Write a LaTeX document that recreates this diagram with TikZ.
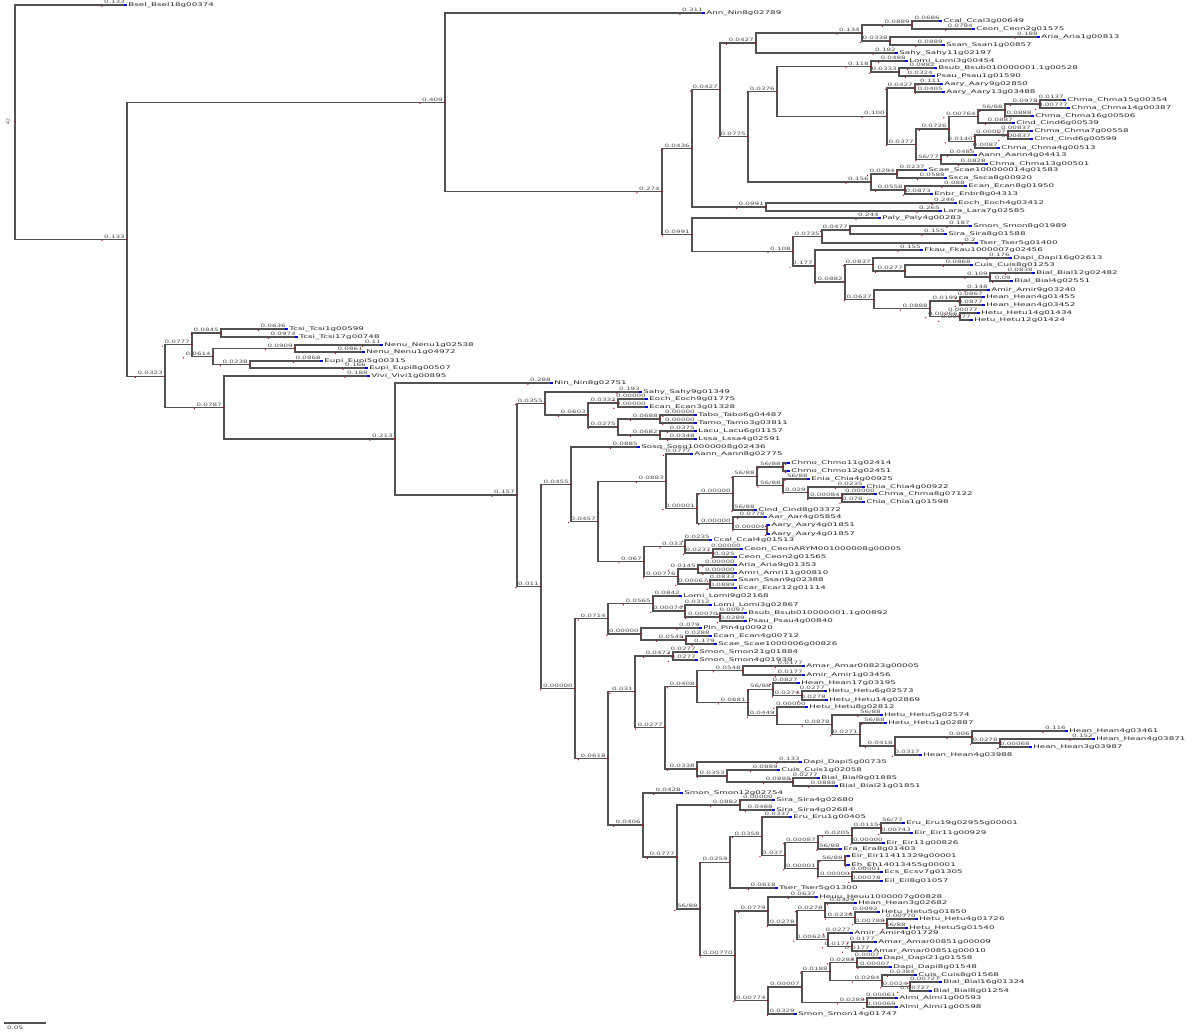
\documentclass[tikz,border=0pt]{standalone}
\usepackage{fontspec}
\newfontfamily\tf{DejaVu Sans}
\usetikzlibrary{calc}
\newcommand\setbl[2]{\expandafter\gdef\csname brl#1\endcsname{#2}}
\newcommand\getbl[1]{\csname brl#1\endcsname}
\newcommand\leaflist{}
\newcommand\dotlist{}
\newcommand\drawleaf[2]{%
  \draw[tipc] ([xshift=-3pt]#1) -- (#1);
  \node[lname] (#1t) at (#1) {#2};}
\newcommand\drawdot[3]{\fill[rdot] (#1) circle (0.8pt);
  \fill[rdot] ([yshift=-1.3pt]#2lab.south west) circle (0.7pt);
  \fill[rdot] ([yshift=-1.3pt]#3lab.south west) circle (0.7pt);}
\newcommand\lf[5]{%
  \coordinate (#1) at (#2,#3);
  \setbl{#1}{#4}%
  \expandafter\gdef\expandafter\leaflist\expandafter{\leaflist\drawleaf{#1}{#5}}%
}
\newcommand\nd[5]{%
  \coordinate (#1m) at ($(#3)!0.5!(#4)$);
  \coordinate (#1) at (#1m -| #2,0);
  \setbl{#1}{#5}%
  \draw[br] (#1) |- node[blab,pos=1] (#3lab) {\getbl{#3}} (#3);
  \draw[br] (#1) |- node[blab,pos=1] (#4lab) {\getbl{#4}} (#4);
  \expandafter\gdef\expandafter\dotlist\expandafter{\dotlist\drawdot{#1}{#3}{#4}}%
}
\begin{document}
\begin{tikzpicture}[x=1pt,y=-1pt,
  br/.style={draw=black!68,line width=1.15pt},
  tipc/.style={draw=blue!85!black,line width=1.1pt},
  lname/.style={anchor=west,inner sep=0.6pt,font=\tf\fontsize{5}{5}\selectfont,xscale=1.75,text=black!85},
  blab/.style={anchor=south east,inner xsep=0.8pt,inner ysep=0.5pt,font=\tf\fontsize{4.5}{4.5}\selectfont,xscale=1.6,text=black!70},
  rdot/.style={fill=red!75!black}]
\fill[white] (0,0) rectangle (1200,1032);
\useasboundingbox (0,0) rectangle (1200,1032);
% ---------- leaves, upper clade
\lf{bsel}{127}{5}{0.133}{Bsel\_Bsel18g00374}
\lf{ann}{705}{13}{0.311}{Ann\_Nin8g02789}
\lf{ccal}{942}{21}{0.0686}{Ccal\_Ccal3g00649}
\lf{ceon}{975}{29}{0.0784}{Ceon\_Ceon2g01575}
\lf{aria}{1040}{37}{0.188}{Aria\_Aria1g00813}
\lf{ssan}{945}{45}{0.0889}{Ssan\_Ssan1g00857}
\lf{sahy}{898}{53}{0.182}{Sahy\_Sahy11g02197}
\lf{lomi}{908}{61}{0.0488}{Lomi\_Lomi3g00454}
\lf{bsub}{937}{68}{0.0882}{Bsub\_Bsub010000001.1g00528}
\lf{psau}{935}{76}{0.0324}{Psau\_Psau1g01590}
\lf{aaryA}{943}{84}{0.111}{Aary\_Aary9g02850}
\lf{aaryB}{945}{92}{0.0405}{Aary\_Aary13g03488}
\lf{chmaA}{1066}{100}{0.0137}{Chma\_Chma15g00354}
\lf{chmaB}{1070}{108}{0.00777}{Chma\_Chma14g00387}
\lf{chmaC}{1034}{116}{0.0888}{Chma\_Chma16g00506}
\lf{cindA}{1015}{123}{0.0887}{Cind\_Cind6g00539}
\lf{chmaD}{1033}{131}{0.00837}{Chma\_Chma7g00558}
\lf{cindB}{1033}{139}{0.00837}{Cind\_Cind6g00599}
\lf{chmaE}{1000}{148}{0.0087}{Chma\_Chma4g00513}
\lf{aannA}{977}{155}{0.0485}{Aann\_Aann4g04413}
\lf{chmaF}{988}{164}{0.0828}{Chma\_Chma13g00501}
\lf{scaeA}{927}{170}{0.0237}{Scae\_Scae100000014g01583}
\lf{sscaA}{947}{178}{0.0588}{Ssca\_Ssca8g00920}
\lf{ecanA}{967}{186}{0.088}{Ecan\_Ecan8g01950}
\lf{enbrA}{933}{194}{0.0873}{Enbr\_Enbr8g04313}
\lf{eochA}{957}{203}{0.246}{Eoch\_Eoch4g03412}
\lf{laraA}{942}{211}{0.265}{Lara\_Lara7g02585}
\lf{palyA}{881}{218}{0.244}{Paly\_Paly4g00283}
\lf{smonA}{972}{226}{0.187}{Smon\_Smon8g01989}
\lf{siraA}{947}{234}{0.155}{Sira\_Sira8g01588}
\lf{tserA}{978}{243}{0.2}{Tser\_Tser5g01400}
\lf{fkauA}{923}{250}{0.155}{Fkau\_Fkau1000007g02456}
\lf{dapiA}{1012}{258}{0.176}{Dapi\_Dapi16g02613}
\lf{cuisA}{973}{265}{0.0868}{Cuis\_Cuis8g01253}
\lf{bialA}{1035}{273}{0.0838}{Bial\_Bial12g02482}
\lf{bialB}{1013}{281}{0.09}{Bial\_Bial4g02551}
\lf{amirA}{990}{290}{0.148}{Amir\_Amir9g03240}
\lf{heanA}{985}{297}{0.0867}{Hean\_Hean4g01455}
\lf{heanB}{985}{305}{0.0877}{Hean\_Hean4g03452}
\lf{hetuA}{980}{313}{0.00077}{Hetu\_Hetu14g01434}
\lf{hetuB}{973}{320}{0.00077}{Hetu\_Hetu12g01424}
% ---------- internal, upper clade
\nd{Ca}{912}{ccal}{ceon}{0.0889}
\nd{Cb}{890}{aria}{ssan}{0.0338}
\nd{C1}{862}{Ca}{Cb}{0.134}
\nd{C}{756}{C1}{sahy}{0.0427}
\nd{H}{899}{bsub}{psau}{0.0333}
\nd{G}{871}{lomi}{H}{0.118}
\nd{J}{915}{aaryA}{aaryB}{0.0427}
\nd{O}{1040}{chmaA}{chmaB}{0.0978}
\nd{N}{1005}{O}{chmaC}{56/88}
\nd{M}{978}{N}{cindA}{0.00764}
\nd{L3}{1008}{chmaD}{cindB}{0.00007}
\nd{L2}{975}{L3}{chmaE}{0.0140}
\nd{L}{949}{M}{L2}{0.0726}
\nd{K2}{941}{aannA}{chmaF}{56/77}
\nd{K}{916}{L}{K2}{0.0377}
\nd{I}{887}{J}{K}{0.100}
\nd{E}{777}{G}{I}{0.0376}
\nd{F1}{897}{scaeA}{sscaA}{0.0294}
\nd{F2}{905}{ecanA}{enbrA}{0.0558}
\nd{F}{871}{F1}{F2}{0.156}
\nd{D}{748}{E}{F}{0.0775}
\nd{B}{720}{C}{D}{0.0427}
\nd{EL}{766}{eochA}{laraA}{0.0991}
\nd{A}{692}{B}{EL}{0.0436}
\nd{T}{850}{smonA}{siraA}{0.0477}
\nd{S}{822}{T}{tserA}{0.0735}
\nd{Y}{990}{bialA}{bialB}{0.109}
\nd{X}{905}{cuisA}{Y}{0.0277}
\nd{W}{873}{dapiA}{X}{0.0837}
\nd{AB}{960}{heanA}{heanB}{0.0199}
\nd{AC}{960}{hetuA}{hetuB}{0.00066}
\nd{AA}{930}{AB}{AC}{0.0888}
\nd{Z}{874}{amirA}{AA}{0.0627}
\nd{V}{845}{W}{Z}{0.0882}
\nd{U}{815}{fkauA}{V}{0.177}
\nd{R}{793}{S}{U}{0.108}
\nd{P}{692}{palyA}{R}{0.0991}
\nd{Q}{662}{A}{P}{0.274}
\nd{TT}{445}{ann}{Q}{0.409}
% ---------- leaves, lower clade
\lf{tcsiA}{288}{329}{0.0636}{Tcsi\_Tcsi1g00599}
\lf{tcsiB}{298}{337}{0.0974}{Tcsi\_Tcsi17g00748}
\lf{nenuA}{383}{345}{0.11}{Nenu\_Nenu1g02538}
\lf{nenuB}{365}{352}{0.0861}{Nenu\_Nenu1g04972}
\lf{eupiA}{323}{361}{0.0868}{Eupi\_Eupi5g00315}
\lf{eupiB}{368}{368}{0.166}{Eupi\_Eupi8g00507}
\lf{vivi}{370}{376}{0.188}{Vivi\_Vivi1g00895}
\lf{nin}{553}{383}{0.288}{Nin\_Nin8g02751}
\lf{sahyB}{642}{392}{0.193}{Sahy\_Sahy9g01349}
\lf{eochB}{648}{399}{0.00000}{Eoch\_Eoch9g01775}
\lf{ecanB}{648}{407}{0.00000}{Ecan\_Ecan3g01328}
\lf{tabo}{697}{415}{0.00000}{Tabo\_Tabo6g04487}
\lf{tamo}{697}{423}{0.00000}{Tamo\_Tamo3g03811}
\lf{lacu}{697}{431}{0.0375}{Lacu\_Lacu6g01157}
\lf{lssa}{697}{439}{0.0348}{Lssa\_Lssa4g02591}
\lf{sosq}{640}{447}{0.0885}{Sosq\_Sosq10000008g02436}
\lf{aannB}{693}{454}{0.0777}{Aann\_Aann8g02775}
\lf{chmoA}{790}{463}{}{Chmo\_Chmo11g02414}
\lf{chmoB}{790}{471}{}{Chmo\_Chmo12g02451}
\lf{enia}{810}{479}{56/88}{Enia\_Chia4g00925}
\lf{chiaA}{865}{487}{0.0235}{Chia\_Chia4g00922}
\lf{chmaG}{877}{494}{0.00000}{Chma\_Chma8g07122}
\lf{chiaB}{865}{502}{0.078}{Chia\_Chia1g01598}
\lf{cindC}{757}{510}{56/88}{Cind\_Cind8g03372}
\lf{aar}{767}{517}{0.0778}{Aar\_Aar4g05854}
\lf{aaryC}{770}{525}{}{Aary\_Aary4g01851}
\lf{aaryD}{770}{534}{}{Aary\_Aary4g01857}
\lf{ccalB}{712}{540}{0.0235}{Ccal\_Ccal4g01513}
\lf{ceonB}{743}{549}{0.00000}{Ceon\_CeonARYM001000008g00005}
\lf{ceonC}{737}{557}{0.025}{Ceon\_Ceon2g01565}
\lf{ariaB}{737}{565}{0.00000}{Aria\_Aria9g01353}
\lf{amri}{737}{573}{0.00000}{Amri\_Amri11g00810}
\lf{ssanB}{737}{580}{0.0833}{Ssan\_Ssan9g02388}
\lf{ecar}{737}{588}{0.0889}{Ecar\_Ecar12g01114}
\lf{lomiB}{682}{596}{0.0842}{Lomi\_Lomi9g02168}
\lf{lomiC}{712}{605}{0.0312}{Lomi\_Lomi3g02867}
\lf{bsubB}{747}{613}{0.0097}{Bsub\_Bsub010000001.1g00892}
\lf{psauB}{747}{621}{0.0289}{Psau\_Psau4g00840}
\lf{pin}{702}{628}{0.079}{Pin\_Pin4g00920}
\lf{ecanC}{712}{636}{0.0288}{Ecan\_Ecan4g00712}
\lf{scaeB}{717}{644}{0.179}{Scae\_Scae1000006g00826}
\lf{smonB}{698}{652}{0.0277}{Smon\_Smon21g01884}
\lf{smonC}{698}{660}{0.0277}{Smon\_Smon4g01939}
\lf{amar}{805}{666}{0.0177}{Amar\_Amar00823g00005}
\lf{amirB}{805}{675}{0.0177}{Amir\_Amir1g03456}
\lf{heanC}{800}{683}{0.0827}{Hean\_Hean17g03195}
\lf{hetuC}{827}{691}{0.0277}{Hetu\_Hetu6g02573}
\lf{hetuD}{828}{700}{0.0278}{Hetu\_Hetu14g02869}
\lf{hetuE}{808}{707}{0.00000}{Hetu\_Hetu8g02812}
\lf{hetuF}{883}{715}{56/88}{Hetu\_Hetu5g02574}
\lf{hetuG}{887}{723}{56/88}{Hetu\_Hetu1g02887}
\lf{heanD}{1068}{731}{0.116}{Hean\_Hean4g03461}
\lf{heanE}{1095}{739}{0.152}{Hean\_Hean4g03871}
\lf{heanF}{1032}{747}{0.00068}{Hean\_Hean3g03987}
\lf{heanG}{922}{755}{0.0317}{Hean\_Hean4g03988}
\lf{dapiB}{802}{762}{0.133}{Dapi\_Dapi5g00735}
\lf{cuisB}{780}{770}{0.0889}{Cuis\_Cuis1g02058}
\lf{bialC}{820}{778}{0.0277}{Bial\_Bial9g01885}
\lf{bialD}{838}{786}{0.0888}{Bial\_Bial21g01851}
\lf{smonD}{683}{793}{0.0428}{Smon\_Smon12g02754}
\lf{siraB}{775}{800}{0.00000}{Sira\_Sira4g02680}
\lf{siraC}{775}{810}{0.0488}{Sira\_Sira4g02684}
\lf{eruA}{792}{817}{0.0337}{Eru\_Eru1g00405}
\lf{eruB}{905}{823}{56/77}{Eru\_Eru19g02955g00001}
\lf{eirA}{913}{833}{0.00743}{Eir\_Eir11g00929}
\lf{eirB}{885}{843}{0.00000}{Eir\_Eir11g00826}
\lf{era}{842}{849}{56/88}{Era\_Era8g01403}
\lf{eirC}{850}{856}{}{Eir\_Eir11411329g00001}
\lf{eh}{850}{865}{}{Eh\_Eh14013455g00001}
\lf{ecs}{883}{872}{0.00001}{Ecs\_Ecsv7g01305}
\lf{eil}{883}{881}{0.00078}{Eil\_Eil8g01057}
\lf{tserB}{778}{888}{0.0618}{Tser\_Tser5g01300}
\lf{heuu}{818}{897}{0.0637}{Heuu\_Heuu1000007g00828}
\lf{heanH}{857}{903}{0.0329}{Hean\_Hean3g02682}
\lf{hetuH}{880}{912}{0.0092}{Hetu\_Hetu5g01850}
\lf{hetuI}{918}{919}{0.00770}{Hetu\_Hetu4g01726}
\lf{hetuJ}{908}{928}{56/88}{Hetu\_Hetu5g01540}
\lf{amirC}{853}{933}{0.0277}{Amir\_Amir4g01729}
\lf{amarB}{877}{942}{0.0177}{Amar\_Amar00851g00009}
\lf{amarC}{872}{951}{0.0177}{Amar\_Amar00851g00010}
\lf{dapiC}{882}{958}{0.0007}{Dapi\_Dapi21g01558}
\lf{dapiD}{892}{967}{0.00007}{Dapi\_Dapi8g01548}
\lf{cuisC}{917}{975}{0.0384}{Cuis\_Cuis8g01568}
\lf{bialE}{942}{982}{0.00727}{Bial\_Bial16g01324}
\lf{bialF}{932}{991}{0.00727}{Bial\_Bial8g01254}
\lf{almiA}{898}{998}{0.00061}{Almi\_Almi1g00593}
\lf{almiB}{898}{1007}{0.00069}{Almi\_Almi1g00598}
\lf{smonE}{797}{1014}{0.0329}{Smon\_Smon14g01747}
% ---------- internal, lower clade
\nd{bTc}{221}{tcsiA}{tcsiB}{0.0845}
\nd{bNe}{295}{nenuA}{nenuB}{0.0909}
\nd{bEu}{250}{eupiA}{eupiB}{0.0238}
\nd{bNn}{213}{bNe}{bEu}{0.0614}
\nd{bM}{192}{bTc}{bNn}{0.0777}
\nd{b618a}{618}{eochB}{ecanB}{0.0332}
\nd{b660a}{660}{tabo}{tamo}{0.0688}
\nd{b660b}{660}{lacu}{lssa}{0.0682}
\nd{b618b}{618}{b660a}{b660b}{0.0275}
\nd{b588}{588}{b618a}{b618b}{0.0603}
\nd{b545}{545}{sahyB}{b588}{0.0355}
\nd{b783a}{783}{chmoA}{chmoB}{56/88}
\nd{b842}{842}{chmaG}{chiaB}{0.00084}
\nd{b808}{808}{chiaA}{b842}{0.029}
\nd{b783b}{783}{enia}{b808}{56/88}
\nd{b757}{757}{b783a}{b783b}{56/88}
\nd{b733a}{733}{b757}{cindC}{0.00000}
\nd{b767}{767}{aaryC}{aaryD}{0.00004}
\nd{b733b}{733}{aar}{b767}{0.00000}
\nd{b697}{697}{b733a}{b733b}{0.00001}
\nd{b666}{666}{aannB}{b697}{0.0883}
\nd{b713}{713}{ceonB}{ceonC}{0.0237}
\nd{b685}{685}{ccalB}{b713}{0.033}
\nd{b698}{698}{ariaB}{amri}{0.0145}
\nd{b710}{710}{ssanB}{ecar}{0.00067}
\nd{b678}{678}{b698}{b710}{0.00776}
\nd{b643}{644}{b685}{b678}{0.067}
\nd{b598}{598}{b666}{b643}{0.0457}
\nd{b571}{571}{sosq}{b598}{0.0455}
\nd{b720c}{720}{bsubB}{psauB}{0.00070}
\nd{b685c}{685}{lomiC}{b720c}{0.00074}
\nd{b653}{653}{lomiB}{b685c}{0.0565}
\nd{b686}{686}{ecanC}{scaeB}{0.0548}
\nd{b641}{641}{pin}{b686}{0.00000}
\nd{b608a}{608}{b653}{b641}{0.0714}
\nd{b673}{673}{smonB}{smonC}{0.0473}
\nd{b743}{743}{amar}{amirB}{0.0548}
\nd{b802h}{802}{hetuC}{hetuD}{0.0274}
\nd{b773}{773}{heanC}{b802h}{56/88}
\nd{b1000}{1000}{heanE}{heanF}{0.0278}
\nd{b972}{972}{heanD}{b1000}{0.006}
\nd{b895}{895}{b972}{heanG}{0.0418}
\nd{b860}{860}{hetuG}{b895}{0.0271}
\nd{b832}{832}{hetuF}{b860}{0.0878}
\nd{b777}{777}{hetuE}{b832}{0.0449}
\nd{b748}{748}{b773}{b777}{0.0681}
\nd{b697c}{697}{b743}{b748}{0.0408}
\nd{b793}{793}{bialC}{bialD}{0.0888}
\nd{b727}{727}{cuisB}{b793}{0.0353}
\nd{b697d}{697}{dapiB}{b727}{0.0338}
\nd{b665}{665}{b697c}{b697d}{0.0277}
\nd{b635}{635}{b673}{b665}{0.031}
\nd{b740}{740}{siraB}{siraC}{0.0882}
\nd{b881}{881}{eruB}{eirA}{0.0115}
\nd{b852}{852}{b881}{eirB}{0.0205}
\nd{b818}{818}{b852}{era}{0.00087}
\nd{b845}{845}{eirC}{eh}{56/88}
\nd{b852b}{852}{ecs}{eil}{0.00000}
\nd{b818b}{818}{b845}{b852b}{0.00001}
\nd{b785}{785}{b818}{b818b}{0.037}
\nd{b762}{762}{eruA}{b785}{0.0358}
\nd{b730}{730}{b762}{tserB}{0.0259}
\nd{b887}{887}{hetuI}{hetuJ}{0.00788}
\nd{b855}{855}{hetuH}{b887}{0.0238}
\nd{b825}{825}{heanH}{b855}{0.0278}
\nd{b852c}{852}{amarB}{amarC}{0.0177}
\nd{b828}{828}{amirC}{b852c}{0.00624}
\nd{b797}{797}{b825}{b828}{0.0278}
\nd{b768a}{768}{heuu}{b797}{0.0779}
\nd{b857}{857}{dapiC}{dapiD}{0.0288}
\nd{b910}{910}{bialE}{bialF}{0.0024}
\nd{b882}{882}{cuisC}{b910}{0.0284}
\nd{b830}{830}{b857}{b882}{0.0188}
\nd{b867}{867}{almiA}{almiB}{0.0288}
\nd{b802}{802}{b830}{b867}{0.00007}
\nd{b768b}{768}{b802}{smonE}{0.00774}
\nd{b735}{735}{b768a}{b768b}{0.00770}
\nd{b700}{700}{b730}{b735}{56/88}
\nd{b677}{677}{b740}{b700}{0.0777}
\nd{b643b}{643}{smonD}{b677}{0.0406}
\nd{b608b}{608}{b635}{b643b}{0.0618}
\nd{b575}{575}{b608a}{b608b}{0.00000}
\nd{b541}{541}{b571}{b575}{0.011}
\nd{b517}{517}{b545}{b541}{0.157}
\nd{b395}{395}{nin}{b517}{0.213}
\nd{bV}{224}{vivi}{b395}{0.0787}
\nd{bL}{165}{bM}{bV}{0.0323}
\nd{N127}{127}{TT}{bL}{0.133}
\nd{R0}{15}{bsel}{N127}{}
% foreground marks
\leaflist
\dotlist
% root label and scale bar
\node[font=\tf\fontsize{4.5}{4.5}\selectfont,rotate=90,text=black!75,inner sep=0.5pt] (rootlab) at (8,122) {42};
\coordinate (sbA) at (4,1023);
\coordinate (sbB) at (46,1023);
\draw[br] (sbA) -- (sbB);
\node[font=\tf\fontsize{4.5}{4.5}\selectfont,xscale=1.6,text=black!75,anchor=north west,inner sep=0.5pt] (sblab) at (6,1025) {0.05};
\end{tikzpicture}
\end{document}
